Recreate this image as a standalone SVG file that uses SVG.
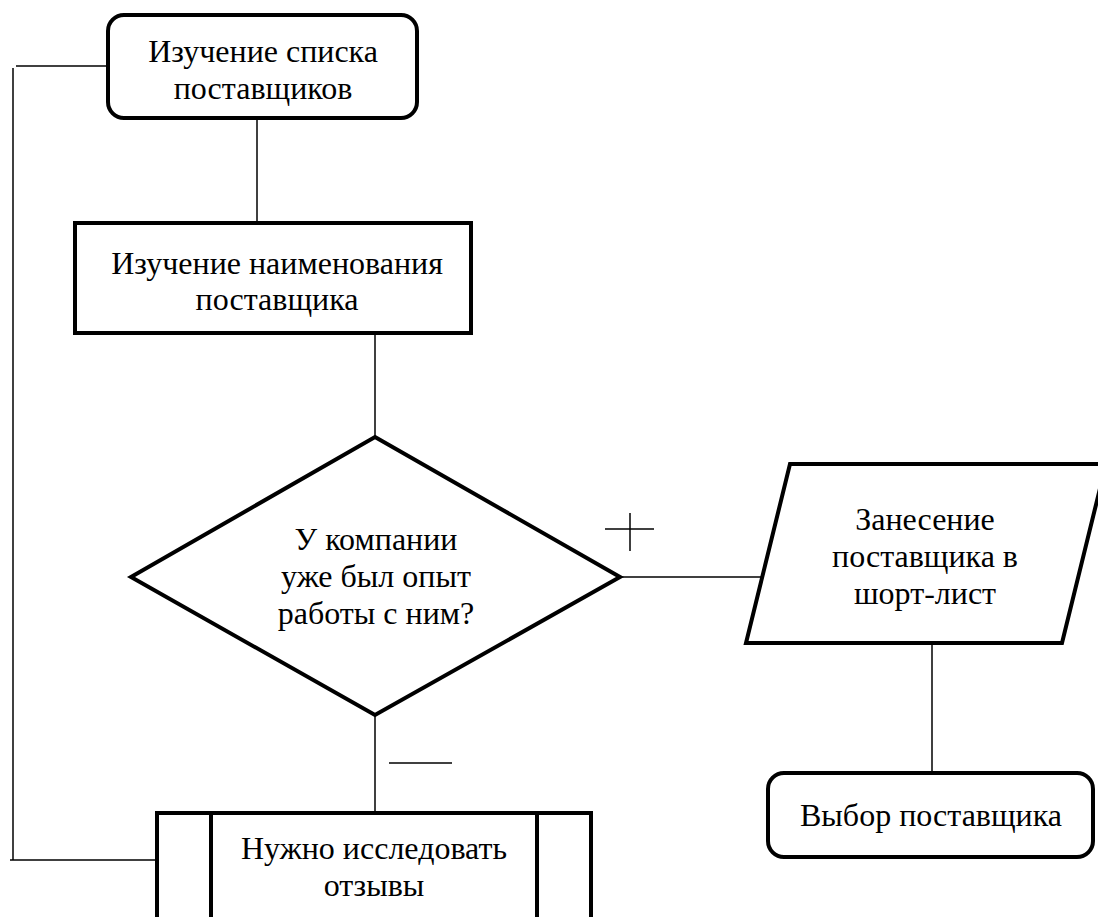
<svg xmlns="http://www.w3.org/2000/svg" width="1098" height="917" viewBox="0 0 1098 917">
<style>
.shape{fill:#fff;stroke:#000;stroke-width:4;stroke-linejoin:miter}
.conn{fill:none;stroke:#000;stroke-width:1.5}
.t{font-family:'Liberation Serif','DejaVu Serif',serif;font-size:32px;fill:#000;text-anchor:middle}
</style>
<rect width="1098" height="917" fill="#fff"/>
<g id="connectors">
<polyline class="conn" points="108,66 16,66"/>
<polyline class="conn" points="13,68 13,860"/>
<polyline class="conn" points="10,860 157,860"/>
<line class="conn" x1="257" y1="118" x2="257" y2="223"/>
<line class="conn" x1="375" y1="333" x2="375" y2="437"/>
<line class="conn" x1="620" y1="577" x2="762" y2="577"/>
<line class="conn" x1="375" y1="715" x2="375" y2="813"/>
<line class="conn" x1="932" y1="643" x2="932" y2="773"/>
<g id="label-plus">
<line class="conn" x1="605" y1="529" x2="654" y2="529"/>
<line class="conn" x1="630" y1="513" x2="630" y2="551"/>
</g>
<line id="label-minus" class="conn" x1="389" y1="763" x2="452" y2="763"/>
</g>
<g id="n1">
<rect class="shape" x="108" y="15" width="309" height="103" rx="16"/>
<text class="t" font-family="Liberation Serif, serif" x="263" y="62">Изучение списка</text>
<text class="t" font-family="Liberation Serif, serif" x="263" y="99">поставщиков</text>
</g>
<g id="n2">
<rect class="shape" x="75" y="223" width="396" height="110"/>
<text class="t" font-family="Liberation Serif, serif" x="277" y="274">Изучение наименования</text>
<text class="t" font-family="Liberation Serif, serif" x="277" y="310">поставщика</text>
</g>
<g id="n3">
<polygon class="shape" points="375,437 620,577 375,715 131,577"/>
<text class="t" font-family="Liberation Serif, serif" x="376" y="550">У компании</text>
<text class="t" font-family="Liberation Serif, serif" x="376" y="587">уже был опыт</text>
<text class="t" font-family="Liberation Serif, serif" x="376" y="624">работы с ним?</text>
</g>
<g id="n4">
<polygon class="shape" points="790,464 1106,464 1062,643 746,643"/>
<text class="t" font-family="Liberation Serif, serif" x="925" y="530">Занесение</text>
<text class="t" font-family="Liberation Serif, serif" x="925" y="567">поставщика в</text>
<text class="t" font-family="Liberation Serif, serif" x="925" y="604">шорт-лист</text>
</g>
<g id="n5">
<rect class="shape" x="768" y="773" width="325" height="84" rx="16"/>
<text class="t" font-family="Liberation Serif, serif" x="931" y="826">Выбор поставщика</text>
</g>
<g id="n6">
<rect class="shape" x="157" y="813" width="434" height="130"/>
<line class="shape" x1="211" y1="813" x2="211" y2="930"/>
<line class="shape" x1="537" y1="813" x2="537" y2="930"/>
<text class="t" font-family="Liberation Serif, serif" x="374" y="859">Нужно исследовать</text>
<text class="t" font-family="Liberation Serif, serif" x="374" y="896">отзывы</text>
</g>
</svg>
